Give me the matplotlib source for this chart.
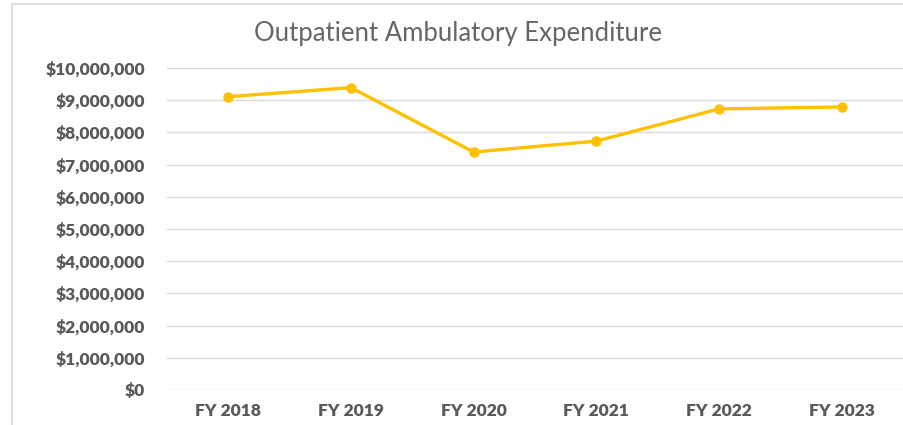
import matplotlib.pyplot as plt
from matplotlib.patches import Rectangle
from matplotlib.ticker import FuncFormatter

years = ["FY 2018", "FY 2019", "FY 2020", "FY 2021", "FY 2022", "FY 2023"]
expenditure = [9110000, 9390000, 7390000, 7730000, 8730000, 8790000]

plt.rcParams['font.family'] = ['Lato', 'DejaVu Sans']

fig = plt.figure(figsize=(9.04, 4.25), dpi=100)
ax = fig.add_axes([167 / 904, 1 - 390 / 425, 736 / 904, 322 / 425])

# outer chart border
fig.patches.append(Rectangle((12 / 904, -0.05), 1.0, 1 - 4 / 425 + 0.05,
                             transform=fig.transFigure, fill=False,
                             edgecolor="#d9d9d9", linewidth=1.2))

x = range(len(years))
ax.plot(x, expenditure, color="#FFC000", linewidth=2.4, marker="o",
        markersize=6.5, solid_capstyle="round", zorder=3)

ax.set_xlim(-0.5, len(years) - 0.5)
ax.set_ylim(0, 10000000)
ax.set_yticks(range(0, 10000001, 1000000))
ax.yaxis.set_major_formatter(FuncFormatter(lambda v, p: "${:,.0f}".format(v)))
ax.set_xticks(list(x))
ax.set_xticklabels(years)

ax.grid(axis="y", color="#d9d9d9", linewidth=1)
ax.set_axisbelow(True)
for s in ax.spines.values():
    s.set_visible(False)
ax.tick_params(length=0, colors="#595959", labelsize=12.5)
ax.tick_params(axis="y", pad=16)
ax.tick_params(axis="x", pad=9)
for lab in ax.get_xticklabels() + ax.get_yticklabels():
    lab.set_fontweight("heavy")

fig.text(458 / 904, 1 - 33 / 425, "Outpatient Ambulatory Expenditure",
         ha="center", va="center", fontsize=18.5, color="#666666",
         fontweight="normal")

fig.savefig("out.png", dpi=100)
